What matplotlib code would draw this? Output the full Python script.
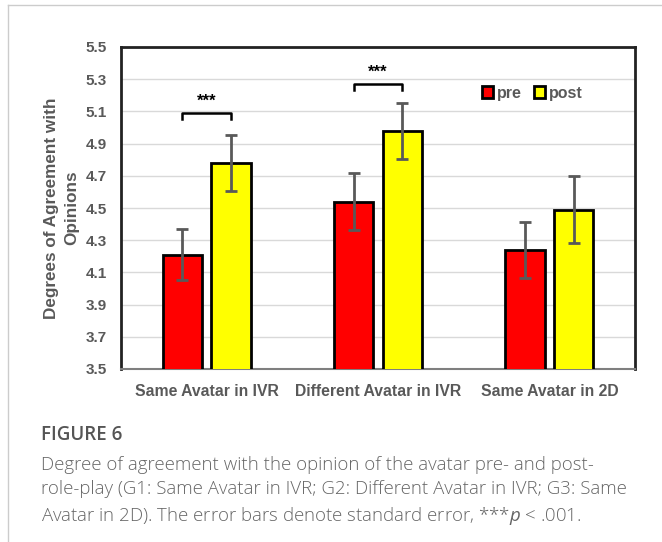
import numpy as np
import matplotlib.pyplot as plt
from matplotlib.lines import Line2D

# data
groups = ['Same Avatar in IVR', 'Different Avatar in IVR', 'Same Avatar in 2D']
pre_mean = [4.21, 4.54, 4.24]
post_mean = [4.78, 4.98, 4.49]
pre_se = [0.16, 0.175, 0.175]
post_se = [0.175, 0.175, 0.21]
sig_groups = [0, 1]
sig_level = [5.09, 5.27]
sig_label = ['***', '***']

plt.rcParams['mathtext.fontset'] = 'custom'
plt.rcParams['mathtext.it'] = 'Open Sans:italic'

grey = '#595959'
fig = plt.figure(figsize=(6.62, 5.42), dpi=100)
ax = fig.add_axes([121/662, 1-369/542, 514/662, 322/542])

x = np.arange(len(groups))
w = 0.23
off = 0.142
ax.bar(x-off, pre_mean, width=w, color='#ff0000', edgecolor='black',
       linewidth=2, label='pre', zorder=3)
ax.bar(x+off, post_mean, width=w, color='#ffff00', edgecolor='black',
       linewidth=2, label='post', zorder=3)
ax.errorbar(x-off, pre_mean, yerr=pre_se, fmt='none', ecolor=grey, elinewidth=2,
            capsize=4, capthick=2, zorder=4)
ax.errorbar(x+off, post_mean, yerr=post_se, fmt='none', ecolor=grey, elinewidth=2,
            capsize=4, capthick=2, zorder=4)

# significance brackets
for g, lev, lab in zip(sig_groups, sig_level, sig_label):
    ax.plot([g-off, g-off, g+off, g+off], [lev-0.04, lev, lev, lev-0.04],
            color='black', lw=1.8, zorder=5)
    ax.text(g, lev+0.025, lab, ha='center', va='bottom', fontsize=12,
            fontweight='bold', family='Liberation Sans')

ax.set_xlim(-0.5, 2.5)
ax.set_ylim(3.5, 5.5)
yt = np.arange(3.5, 5.51, 0.2)
ax.set_yticks(yt)
ax.set_yticklabels(['{:.1f}'.format(v) for v in yt])
ax.set_xticks(x)
ax.set_xticklabels(groups)
ax.tick_params(length=0, labelcolor=grey)
ax.tick_params(axis='x', pad=11)
ax.tick_params(axis='y', pad=10)
for lab in ax.get_xticklabels():
    lab.set_fontweight('bold')
    lab.set_family('Liberation Sans')
    lab.set_fontsize(11.3)
for lab in ax.get_yticklabels():
    lab.set_fontweight('bold')
    lab.set_family('Liberation Sans')
    lab.set_fontsize(11)
ax.yaxis.grid(True, color='#d9d9d9', lw=1, zorder=0)
ax.set_axisbelow(True)
for s in ['top', 'left', 'right']:
    ax.spines[s].set_linewidth(2)
    ax.spines[s].set_color('#222222')
ax.spines['bottom'].set_linewidth(1.5)
ax.spines['bottom'].set_color('#7f7f7f')

ax.set_ylabel('Degrees of Agreement with\nOpinions', fontsize=12.3, fontweight='bold',
              color=grey, family='Liberation Sans', linespacing=1.38)
ax.yaxis.set_label_coords(-42/514, 0.5)

leg = ax.legend(loc='center', bbox_to_anchor=(0.80, 0.857), ncol=2, frameon=False,
                handlelength=0.7, handleheight=0.7, handletextpad=0.2, columnspacing=0.8,
                prop={'family': 'Liberation Sans', 'weight': 'bold', 'size': 11.5})
for t in leg.get_texts():
    t.set_color(grey)

# page frame lines
fig.add_artist(Line2D([8/662, 1], [1-5/542, 1-5/542], color='#cccccc', lw=1))
fig.add_artist(Line2D([8/662, 8/662], [0, 1-5/542], color='#cccccc', lw=1))

fig.text(41/662, 1-435/542, 'FIGURE 6', fontsize=13.5, color='#555555',
         family='Open Sans', fontweight='semibold', va='center')
caption = ('Degree of agreement with the opinion of the avatar pre- and post-\n'
           'role-play (G1: Same Avatar in IVR; G2: Different Avatar in IVR; G3: Same\n'
           'Avatar in 2D). The error bars denote standard error, ***$\\it{p}$ < .001.')
fig.text(41/662, 1-456/542, caption, fontsize=13.4, color='#666666', family='Open Sans',
         fontweight='light', va='top', linespacing=1.42)

fig.savefig('out.png')
